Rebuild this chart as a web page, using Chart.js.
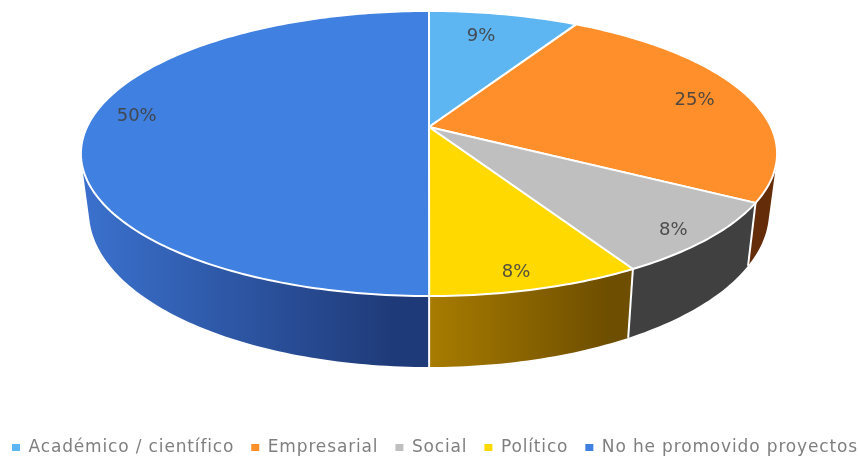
<!DOCTYPE html>
<html lang="es">
<head>
    <meta charset="UTF-8">
    <title>Promoción de proyectos</title>
    <script src="https://cdn.jsdelivr.net/npm/chart.js"></script>
    <style>
        body { margin: 0; background-color: white; overflow: hidden; }
        /* más ancho que la ventana para que la leyenda quepa en una sola línea */
        #pie { display: block; margin-left: -15px; filter: blur(0.35px); }
    </style>
</head>
<body>
    <canvas id="pie" width="900" height="458"></canvas>

    <script>
        const categories = ["Académico / científico", "Empresarial", "Social", "Político", "No he promovido proyectos"];
        // los sectores miden 1/12, 3/12, 1/12, 1/12 y 6/12; las etiquetas van redondeadas así
        const values = [8.33, 25, 8.33, 8.33, 50];
        const percentLabels = ["9%", "25%", "8%", "8%", "50%"];

        const topColors = ["#5DB5F1", "#FF8F2B", "#BFBFBF", "#FFD900", "#4080E0"];
        const sideColors = [["#2F6E9C", "#2F6E9C"], ["#652C0A", "#652C0A"], ["#404040", "#404040"], ["#A87C00", "#6E4E00"], ["#3A70CC", "#1F3A78"]];

        // sitio de cada etiqueta dentro del sector: fracción del radio y giro en grados
        const labelRadius = [0.77, 0.83, 0.91, 0.91, 0.87];
        const labelTurn = [-2, 1, 1.5, 1.5, 5];

        // perspectiva de la tapa y del canto
        const view = { cx: 444, cy: 127, rx: 342, ry: 137.6, tilt: -0.186, shrink: 0.977, depth: 55, depthGrow: 16 };

        function topPoint(angle, f) {
            const u = f * Math.cos(angle), v = f * Math.sin(angle);
            const w = 1 + view.tilt * v;
            return { x: view.cx + view.rx * u / w, y: view.cy + view.ry * v / w };
        }

        function lowPoint(angle) {
            const p = topPoint(angle, 1);
            return {
                x: view.cx + (p.x - view.cx) * view.shrink,
                y: p.y + view.depth + view.depthGrow * Math.sin(angle)
            };
        }

        function drawWall(ctx, arc, colors) {
            const step = Math.PI / 180;
            const n = Math.ceil((arc.endAngle - arc.startAngle) / step);
            const angleAt = i => arc.startAngle + (arc.endAngle - arc.startAngle) * i / n;

            let minX = Infinity, maxX = -Infinity;
            for (let i = 0; i <= n; i++) {
                if (Math.sin(angleAt(i)) < 0) continue;
                const x = lowPoint(angleAt(i)).x;
                minX = Math.min(minX, x);
                maxX = Math.max(maxX, x);
            }
            if (minX === Infinity) return; // sector de atrás, su canto no se ve

            const fill = ctx.createLinearGradient(minX, 0, maxX, 0);
            fill.addColorStop(0, colors[0]);
            fill.addColorStop(0.9, colors[1]);
            fill.addColorStop(1, colors[1]);

            // un solo trazado con todos los trozos en el mismo sentido, para que no queden juntas
            ctx.beginPath();
            for (let i = 0; i < n; i++) {
                const a = angleAt(i), b = angleAt(i + 1);
                const quad = [topPoint(a, 1), topPoint(b, 1), lowPoint(b), lowPoint(a)];
                let area = 0;
                quad.forEach((p, j) => {
                    const q = quad[(j + 1) % 4];
                    area += p.x * q.y - q.x * p.y;
                });
                if (area < 0) quad.reverse();
                ctx.moveTo(quad[0].x, quad[0].y);
                quad.slice(1).forEach(p => ctx.lineTo(p.x, p.y));
                ctx.closePath();
            }
            ctx.fillStyle = fill;
            ctx.fill();
        }

        function drawTop(ctx, arc, color) {
            const n = Math.ceil((arc.endAngle - arc.startAngle) / (Math.PI / 180));
            ctx.beginPath();
            ctx.moveTo(view.cx, view.cy);
            for (let i = 0; i <= n; i++) {
                const p = topPoint(arc.startAngle + (arc.endAngle - arc.startAngle) * i / n, 1);
                ctx.lineTo(p.x, p.y);
            }
            ctx.closePath();
            ctx.fillStyle = color;
            ctx.fill();
            ctx.lineJoin = "round";
            ctx.strokeStyle = "white";
            ctx.lineWidth = 2;
            ctx.stroke();
        }

        const pie3d = {
            id: "pie3d",
            beforeLayout(chart) {
                chart.ctx.letterSpacing = "0.85px"; // el original sale algo estirado a lo ancho
            },
            afterLayout(chart) {
                // la leyenda va pegada al borde inferior
                chart.legend.top += 8;
                chart.legend.bottom += 8;
            },
            beforeDatasetsDraw(chart) {
                const ctx = chart.ctx;
                const arcs = chart.getDatasetMeta(0).data;
                ctx.save();

                arcs.forEach((arc, i) => drawWall(ctx, arc, sideColors[i]));

                // aristas blancas del canto, solo las de delante
                ctx.strokeStyle = "white";
                ctx.lineWidth = 2;
                arcs.forEach(arc => {
                    if (Math.sin(arc.endAngle) <= 0) return;
                    const a = topPoint(arc.endAngle, 1), b = lowPoint(arc.endAngle);
                    ctx.beginPath();
                    ctx.moveTo(a.x, a.y);
                    ctx.lineTo(b.x, b.y);
                    ctx.stroke();
                });

                arcs.forEach((arc, i) => drawTop(ctx, arc, topColors[i]));

                ctx.letterSpacing = "0px";
                ctx.font = "18px 'DejaVu Sans'";
                ctx.fillStyle = "rgba(64, 64, 64, 0.9)";
                ctx.textAlign = "center";
                ctx.textBaseline = "middle";
                arcs.forEach((arc, i) => {
                    const mid = (arc.startAngle + arc.endAngle) / 2 + labelTurn[i] * Math.PI / 180;
                    const p = topPoint(mid, labelRadius[i]);
                    ctx.fillText(percentLabels[i], p.x, p.y);
                });

                ctx.restore();
                return false; // los sectores planos no se pintan
            }
        };

        new Chart(document.getElementById("pie"), {
            type: "pie",
            data: {
                labels: categories,
                datasets: [{ data: values, backgroundColor: topColors, borderWidth: 0 }]
            },
            options: {
                responsive: false,
                animation: false,
                plugins: {
                    tooltip: { enabled: false },
                    legend: {
                        position: "bottom",
                        labels: {
                            boxWidth: 8,
                            boxHeight: 7,
                            padding: 17,
                            color: "#7F7F7F",
                            font: { family: "'DejaVu Sans'", size: 17 }
                        }
                    }
                }
            },
            plugins: [pie3d]
        });
    </script>
</body>
</html>
